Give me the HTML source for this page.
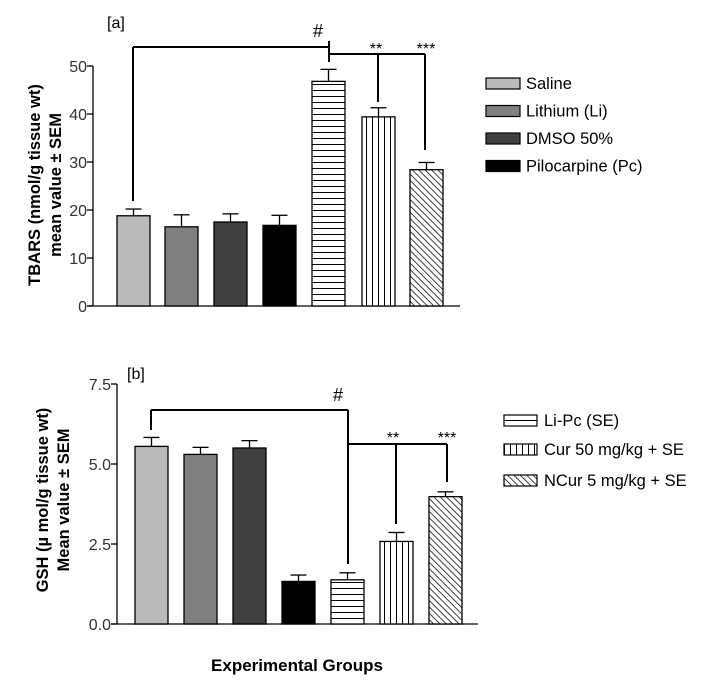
<!DOCTYPE html>
<html><head><meta charset="utf-8"><style>body{margin:0;background:#fff}svg{display:block}text{font-family:"Liberation Sans",Arial,sans-serif}</style></head>
<body>
<svg id="s" width="728" height="680" xmlns="http://www.w3.org/2000/svg">
<defs>
<pattern id="ph" width="6" height="6" patternUnits="userSpaceOnUse"><rect width="6" height="6" fill="#fff"/><line x1="0" y1="0.5" x2="6" y2="0.5" stroke="#000" stroke-width="1"/></pattern>
<pattern id="pv" width="6" height="6" patternUnits="userSpaceOnUse"><rect width="6" height="6" fill="#fff"/><line x1="0.5" y1="0" x2="0.5" y2="6" stroke="#000" stroke-width="1"/></pattern>
<pattern id="pd" width="4.5" height="4.5" patternUnits="userSpaceOnUse" patternTransform="rotate(-45)"><rect width="4.5" height="4.5" fill="#fff"/><line x1="0" y1="0" x2="0" y2="4.5" stroke="#000" stroke-width="1.5"/></pattern>
</defs>
</svg>
<script>
const s=document.getElementById('s');let h='';
const fills=['#bbb','#808080','#404040','#000','url(#ph)','url(#pv)','url(#pd)'];
function panel(x0,y0,ymax,ppu,xs,vals,errs,ticks,fmt,axEnd){
 h+=`<line x1="${x0}" y1="${y0-ymax*ppu}" x2="${x0}" y2="${y0}" stroke="#000" stroke-width="1.3"/>`;
 h+=`<line x1="${x0-6}" y1="${y0}" x2="${axEnd}" y2="${y0}" stroke="#000" stroke-width="1.3"/>`;
 ticks.forEach(t=>{const y=y0-t*ppu;h+=`<line x1="${x0-6}" y1="${y}" x2="${x0}" y2="${y}" stroke="#000" stroke-width="1.3"/><text x="${x0-6}" y="${y+6}" font-size="16" text-anchor="end" fill="#333">${fmt(t)}</text>`;});
 xs.forEach((x,i)=>{const top=y0-vals[i]*ppu,et=y0-errs[i]*ppu,c=x+16.5;
  h+=`<line x1="${c}" y1="${top}" x2="${c}" y2="${et}" stroke="#000" stroke-width="1.3"/><line x1="${c-8}" y1="${et}" x2="${c+8}" y2="${et}" stroke="#000" stroke-width="1.3"/>`;
  h+=`<rect x="${x}" y="${top}" width="33" height="${y0-top}" fill="${fills[i]}" stroke="#000" stroke-width="1.3"/>`;});
}
panel(93,306,50,4.8,[117,165,214,263,312,362,410],[18.8,16.5,17.5,16.8,46.8,39.4,28.4],[20.2,19,19.2,18.9,49.3,41.3,29.9],[0,10,20,30,40,50],t=>t,460);
panel(117,624,7.5,32,[135,184,233,282,331,380,429],[5.55,5.3,5.5,1.33,1.38,2.58,3.98],[5.83,5.52,5.73,1.53,1.6,2.86,4.13],[0,2.5,5,7.5],t=>t.toFixed(1),478);
const L=(a,b,c,d)=>h+=`<line x1="${a}" y1="${b}" x2="${c}" y2="${d}" stroke="#000" stroke-width="2"/>`;
L(133,201,133,47);L(133,47,329,47);L(329,41,329,62);L(329,54,425,54);L(378,54,378,102);L(425,54,425,150);
L(151,430,151,410);L(151,410,348,410);L(348,410,348,564);L(348,444,447,444);L(396,444,396,524);L(447,444,447,482);
const T=(x,y,t,sz,extra='')=>h+=`<text x="${x}" y="${y}" font-size="${sz}" ${extra}>${t}</text>`;
T(107,28,'[a]',16);T(127,379,'[b]',16);
T(318,37,'#',18,'text-anchor="middle"');T(376,54,'**',16,'text-anchor="middle"');T(426,54,'***',16,'text-anchor="middle"');
T(338,401,'#',18,'text-anchor="middle"');T(393,443,'**',16,'text-anchor="middle"');T(447,443,'***',16,'text-anchor="middle"');
T(297,671,'Experimental Groups',17,'text-anchor="middle" font-weight="bold"');
h+=`<text transform="translate(40,185) rotate(-90)" font-size="16.5" font-weight="bold" text-anchor="middle">TBARS (nmol/g tissue wt)</text>`;
h+=`<text transform="translate(61,185) rotate(-90)" font-size="16.5" font-weight="bold" text-anchor="middle">mean value ± SEM</text>`;
h+=`<text transform="translate(48,500) rotate(-90)" font-size="16.5" font-weight="bold" text-anchor="middle">GSH (µ mol/g tissue wt)</text>`;
h+=`<text transform="translate(69,500) rotate(-90)" font-size="16.5" font-weight="bold" text-anchor="middle">Mean value ± SEM</text>`;
['Saline','Lithium (Li)','DMSO 50%','Pilocarpine (Pc)'].forEach((t,i)=>{const y=83+i*27.5;h+=`<rect x="486" y="${y-5}" width="34" height="11" fill="${fills[i]}" stroke="#000" stroke-width="1.2"/><text x="526" y="${y+6}" font-size="16.5">${t}</text>`;});
['Li-Pc (SE)','Cur 50 mg/kg + SE','NCur 5 mg/kg + SE'].forEach((t,i)=>{const y=[420,449,480][i];h+=`<rect x="504" y="${y-5}" width="33" height="11" fill="${fills[i+4]}" stroke="#000" stroke-width="1.2"/><text x="544" y="${y+6}" font-size="16.5">${t}</text>`;});
s.innerHTML+=h;
</script>
</body></html>
